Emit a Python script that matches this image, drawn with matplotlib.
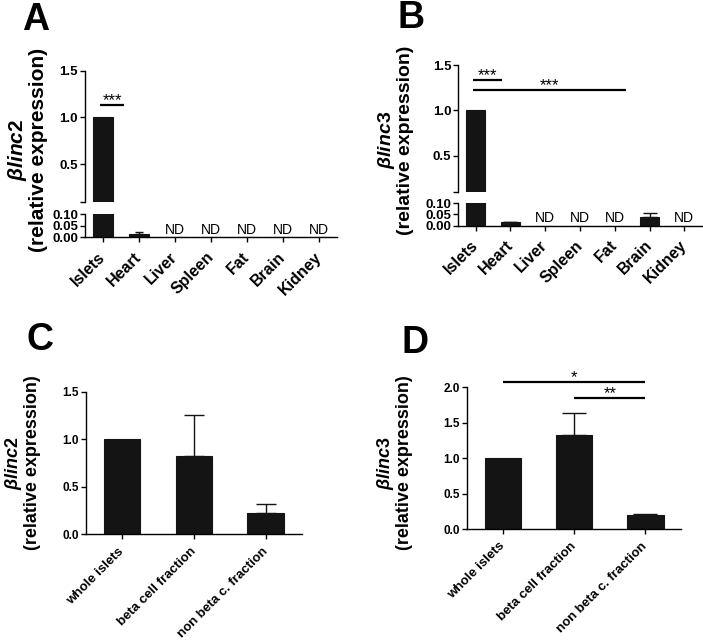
import numpy as np
import matplotlib
matplotlib.use('Agg')
import matplotlib.pyplot as plt

plt.rcParams['font.family'] = ['Liberation Sans', 'DejaVu Sans']
plt.rcParams['mathtext.fontset'] = 'custom'
plt.rcParams['mathtext.it'] = 'Liberation Sans:italic:bold'
plt.rcParams['mathtext.rm'] = 'Liberation Sans:bold'
plt.rcParams['mathtext.bf'] = 'Liberation Sans:bold'

W, H = 703, 640
BAR = '#141414'

# panel A / B: tissues (nan = not detected)
tissues = ['Islets', 'Heart', 'Liver', 'Spleen', 'Fat', 'Brain', 'Kidney']
blinc2_tissue = [1.0, 0.012, np.nan, np.nan, np.nan, np.nan, np.nan]
blinc2_tissue_err = [0, 0.011, 0, 0, 0, 0, 0]
blinc3_tissue = [1.0, 0.014, np.nan, np.nan, np.nan, 0.040, np.nan]
blinc3_tissue_err = [0, 0.004, 0, 0, 0, 0.017, 0]

# panel C / D: islet fractions
fractions = ['whole islets', 'beta cell fraction', 'non beta c. fraction']
blinc2_frac = [1.0, 0.82, 0.22]
blinc2_frac_err = [0, 0.43, 0.10]
blinc3_frac = [1.0, 1.33, 0.20]
blinc3_frac_err = [0, 0.31, 0.01]

# significance brackets: (x start, x end, y, label)
sig_a = [(-0.07, 0.59, 1.135, '***')]
sig_b = [(-0.09, 0.75, 1.333, '***'), (-0.09, 4.33, 1.222, '***')]
sig_d = [(0, 2, 2.08, '*'), (1, 2, 1.853, '**')]

fig = plt.figure(figsize=(W / 100, H / 100), dpi=100)


def add_ax(l, t, r, b):
    """axes from pixel box (left, top, right, bottom)"""
    return fig.add_axes([l / W, 1 - b / H, (r - l) / W, (b - t) / H])


def style(ax, size, xpad=9):
    for s in ['top', 'right']:
        ax.spines[s].set_visible(False)
    for s in ['left', 'bottom']:
        ax.spines[s].set_linewidth(1.0)
    ax.tick_params(direction='out', length=3.6, width=1.0, pad=1.5,
                   labelsize=size)
    ax.tick_params(axis='x', pad=xpad)
    for lab in ax.get_yticklabels():
        lab.set_fontweight('bold')


def draw_bars(ax, vals, errs, width, capsize):
    x = np.arange(len(vals))
    v = np.nan_to_num(np.array(vals, dtype=float))
    ax.bar(x, v, width=width, color=BAR, edgecolor=BAR, linewidth=0.8, zorder=2)
    e = np.array(errs, dtype=float)
    m = e > 0
    if m.any():
        ax.errorbar(x[m], v[m], yerr=[np.zeros(m.sum()), e[m]], fmt='none',
                    ecolor=BAR, elinewidth=1.0, capsize=capsize,
                    capthick=1.0, zorder=3)


def sig(ax, items, size=12):
    for x0, x1, y, lab in items:
        ax.plot([x0, x1], [y, y], color='black', lw=1.6, clip_on=False,
                solid_capstyle='butt')
        ax.text((x0 + x1) / 2, y, lab, ha='center', va='baseline',
                fontsize=size, clip_on=False)


def ylabel(xc, yc, gene, size):
    s = r'$\beta\mathit{' + gene + '}$\n(relative expression)'
    fig.text(xc / W, 1 - yc / H, s, rotation=90, ha='center', va='center',
             fontsize=size, fontweight='bold', linespacing=1.0,
             multialignment='center')


def letter(x, y, s):
    fig.text(x / W, 1 - y / H, s, fontsize=27, fontweight='bold',
             ha='left', va='baseline')


def broken_panel(box, mid_top, mid_bot, vals, errs, caps, sigs, nd_y):
    l, t, r, b = box
    up = add_ax(l, t, r, mid_top)
    lo = add_ax(l, mid_bot, r, b)
    for ax in (up, lo):
        draw_bars(ax, vals, errs, 0.53, caps)
        ax.set_xlim(-0.5, len(vals) - 0.5)
    up.set_ylim(0.1, 1.5)
    up.set_yticks([0.1, 0.5, 1.0, 1.5])
    up.set_yticklabels(['', '0.5', '1.0', '1.5'])
    up.spines['bottom'].set_visible(False)
    up.set_xticks([])
    lo.set_ylim(0, 0.1)
    lo.set_yticks([0, 0.05, 0.1])
    lo.set_yticklabels(['0.00', '0.05', '0.10'])
    lo.set_xticks(range(len(vals)))
    style(up, 9.5)
    style(lo, 9.5)
    lo.set_xticklabels(tissues, rotation=45, ha='right', va='center',
                       rotation_mode='anchor', fontsize=11.5,
                       fontweight='bold')
    for i, v in enumerate(vals):
        if np.isnan(v):
            lo.text(i, nd_y, 'ND', ha='center', va='baseline', fontsize=10)
    sig(up, sigs)
    return up, lo


def frac_panel(box, vals, errs, ymax, yticks, caps, size):
    ax = add_ax(*box)
    draw_bars(ax, vals, errs, 0.51, caps)
    ax.set_xlim(-0.5, len(vals) - 0.5)
    ax.set_ylim(0, ymax)
    ax.set_yticks(yticks)
    ax.set_yticklabels(['%.1f' % v for v in yticks])
    ax.set_xticks(range(len(vals)))
    style(ax, size, xpad=7.5)
    ax.set_xticklabels(fractions, rotation=45, ha='right', va='center',
                       rotation_mode='anchor', fontsize=9.5,
                       fontweight='bold')
    return ax


# A
broken_panel((85, 70.7, 337, 237), 201.7, 214.3, blinc2_tissue,
             blinc2_tissue_err, 3, sig_a, 0.012)
ylabel(27, 150, 'linc2', 15)
letter(22, 30, 'A')

# B
broken_panel((458.3, 65, 701.7, 225.5), 191.7, 203.3, blinc3_tissue,
             blinc3_tissue_err, 4.7, sig_b, 0.014)
ylabel(395, 140, 'linc3', 14)
letter(398, 28, 'B')

# C
frac_panel((86, 391.7, 301.7, 534.3), blinc2_frac, blinc2_frac_err,
           1.5, [0.0, 0.5, 1.0, 1.5], 7, 8.5)
ylabel(22, 463, 'linc2', 13)
letter(27, 350, 'C')

# D
axd = frac_panel((467.3, 387.3, 681, 529), blinc3_frac, blinc3_frac_err,
                 2.0, [0.0, 0.5, 1.0, 1.5, 2.0], 8.3, 8.5)
sig(axd, sig_d)
ylabel(394, 463, 'linc3', 13)
letter(401.7, 353, 'D')

fig.savefig('out.png', dpi=100)
